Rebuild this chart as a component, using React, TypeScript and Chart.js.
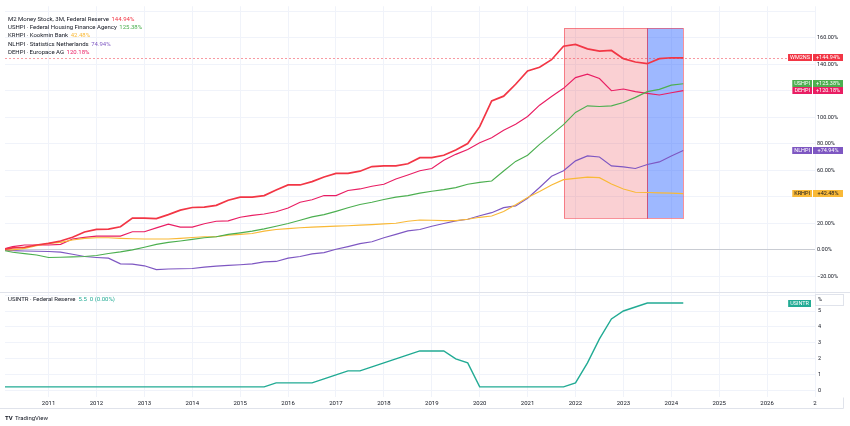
import React, { useEffect, useRef } from 'react';
import { Chart, registerables } from 'chart.js';

Chart.register(...registerables);

// Quarterly observations starting 2010 Q1 (one value per quarter)
const START_YEAR = 2010;

const M2_PCT = [0, 1.5, 2, 3.7, 4.9, 6.7, 9.5, 13.5, 15.5, 15.7, 17.5, 24, 24, 23.6, 26.6, 30, 32, 32.3, 33.6, 37.5, 39.8, 39.8, 41, 45.2, 49, 49, 51.5, 55, 57.7, 57.7, 59.4, 62.9, 63.4, 63.4, 65, 69.6, 69.6, 71.4, 75.4, 80.3, 93, 112.4, 116, 125, 135, 137.8, 143.5, 153.7, 155, 151.7, 150, 150.5, 144.3, 141.8, 140.5, 144.3, 145, 144.94];
const USHPI_PCT = [0, -1.8, -2.8, -3.8, -5.7, -5.5, -5.2, -5, -4.2, -2.7, -1.5, 0, 2, 4.2, 5.7, 6.7, 7.9, 9.2, 9.9, 11.7, 12.9, 14.2, 15.9, 17.9, 19.9, 22.4, 24.9, 26.6, 29.1, 31.8, 34.3, 36, 38, 39.8, 41, 42.8, 44.3, 45.5, 47, 49.5, 51, 52, 59.5, 66.8, 71.4, 79.6, 87, 94.5, 103.7, 108.7, 108.2, 108.7, 111.2, 115.1, 119.4, 121.1, 124.3, 125.38];
const KRHPI_PCT = [0, 0, 1.2, 3.2, 4.9, 5.7, 7.5, 8.7, 9.2, 9.2, 8.7, 8.4, 8.2, 8.2, 8.2, 8.7, 9.4, 9.9, 9.9, 11.2, 11.7, 12.4, 14.2, 15.4, 16.1, 16.7, 17.2, 17.6, 17.9, 18.2, 18.7, 19.1, 19.6, 20.1, 21.6, 22.6, 22.4, 22.1, 22.1, 23.1, 24.6, 25.6, 29, 34, 39.5, 44, 49, 53, 54, 54.9, 54.5, 49.7, 46, 43.5, 43.3, 43, 42.8, 42.48];
const NLHPI_PCT = [0, -0.5, -0.8, -1, -1.2, -1.7, -3.3, -5, -5.7, -6.2, -10.5, -10.7, -12, -14.9, -14.4, -14.2, -14, -13, -12.2, -11.7, -11.2, -10.5, -9, -8.7, -6.2, -5, -3, -2, 0.5, 2.5, 4.7, 6.2, 9.2, 11.7, 14.4, 15.4, 17.9, 19.9, 21.9, 23.1, 25.8, 28.1, 31.9, 33.2, 39, 47.1, 55.5, 59.7, 67.2, 70.9, 70.1, 63.4, 62.7, 61.4, 64.4, 66.4, 70.9, 74.94];
const DEHPI_PCT = [0, 2.5, 3.7, 3.7, 3.7, 4.2, 8.2, 9.5, 10.4, 10.4, 10.4, 13.7, 13.7, 16.6, 19.4, 17.2, 17.2, 19.7, 21.6, 21.9, 24.6, 26.1, 27.1, 28.8, 31.6, 36, 37.8, 41, 41, 44.8, 46, 48, 49.5, 53.5, 56.5, 59.7, 61.4, 67.6, 72.1, 75.8, 80.8, 84.6, 90.3, 94.8, 100.7, 109.2, 115.7, 121.9, 130, 132.6, 129.3, 120.1, 121.4, 119.4, 118.1, 116.9, 118.6, 120.18];
const USINTR = [0.25, 0.25, 0.25, 0.25, 0.25, 0.25, 0.25, 0.25, 0.25, 0.25, 0.25, 0.25, 0.25, 0.25, 0.25, 0.25, 0.25, 0.25, 0.25, 0.25, 0.25, 0.25, 0.25, 0.5, 0.5, 0.5, 0.5, 0.75, 1.0, 1.25, 1.25, 1.5, 1.75, 2.0, 2.25, 2.5, 2.5, 2.5, 2.0, 1.75, 0.25, 0.25, 0.25, 0.25, 0.25, 0.25, 0.25, 0.25, 0.5, 1.75, 3.25, 4.5, 5.0, 5.25, 5.5, 5.5, 5.5, 5.5];

const X_TICKS = [2011, 2012, 2013, 2014, 2015, 2016, 2017, 2018, 2019, 2020, 2021, 2022, 2023, 2024, 2025, 2026, 2027];
const X_TICK_LABELS = ['2011', '2012', '2013', '2014', '2015', '2016', '2017', '2018', '2019', '2020', '2021', '2022', '2023', '2024', '2025', '2026', '2'];
const PCT_TICKS = [-20, 0, 20, 40, 60, 80, 100, 120, 140, 160, 180];
const PCT_HIDDEN = [40, 120, 180];
const RATE_TICKS = [0, 1, 2, 3, 4, 5, 6];
const RATE_HIDDEN = [6];

const SERIES_NAMES = ['M2 Money Stock, 3M, Federal Reserve', 'USHPI · Federal Housing Finance Agency', 'KRHPI · Kookmin Bank', 'NLHPI · Statistics Netherlands', 'DEHPI · Europace AG'];
const SERIES_VALUES = ['144.94%', '125.38%', '42.48%', '74.94%', '120.18%'];
const SERIES_TAGS = ['WM2NS', 'USHPI', 'KRHPI', 'NLHPI', 'DEHPI'];
const SERIES_TAG_VALUES = ['+144.94%', '+125.38%', '+42.48%', '+74.94%', '+120.18%'];
const SERIES_COLORS = ['#F23645', '#4CAF50', '#F9B937', '#7E57C2', '#E91E63'];
const SERIES_WIDTHS = [1.7, 1.15, 1.15, 1.15, 1.15];

const RATE_NAME = 'USINTR · Federal Reserve';
const RATE_VALUES = ['5.5', '0 (0.00%)'];
const RATE_TAG = 'USINTR';
const RATE_COLOR = '#22AB94';

// Drawn rectangles (data units: years, percent)
const ZONE_FROM = [2021.75, 2023.5];
const ZONE_TO = [2023.5, 2024.25];
const ZONE_LOW = [24.3, 24.3];
const ZONE_HIGH = [167.2, 167.2];
const ZONE_FILL = ['rgba(236,60,72,0.24)', 'rgba(41,98,255,0.45)'];
const ZONE_BORDER = ['rgba(242,54,69,0.55)', 'rgba(242,54,69,0.55)'];

const X_MIN = 2010.09;
const X_MAX = 2027;
const FONT = 'Roboto';
const TEXT = '#131722';

const toPoints = (arr: number[]) => arr.map((v, i) => ({ x: START_YEAR + i / 4, y: v }));

const overlay = {
  id: 'overlay',
  beforeDatasetsDraw(chart: any) {
    const { ctx, chartArea, scales } = chart;
    const x = scales.x;
    const y = scales.y;
    ctx.save();
    ctx.beginPath();
    ctx.rect(chartArea.left, y.top, chartArea.right - chartArea.left, y.bottom - y.top);
    ctx.clip();
    for (let i = 0; i < ZONE_FROM.length; i++) {
      const l = Math.round(x.getPixelForValue(ZONE_FROM[i]));
      const r = Math.round(x.getPixelForValue(ZONE_TO[i]));
      const t = Math.round(y.getPixelForValue(ZONE_HIGH[i]));
      const b = Math.round(y.getPixelForValue(ZONE_LOW[i]));
      ctx.fillStyle = ZONE_FILL[i];
      ctx.fillRect(l, t, r - l, b - t);
      ctx.strokeStyle = ZONE_BORDER[i];
      ctx.lineWidth = 1;
      ctx.strokeRect(l + 0.5, t + 0.5, r - l, b - t);
    }
    const py = Math.round(y.getPixelForValue(M2_PCT[M2_PCT.length - 1])) + 0.5;
    ctx.setLineDash([2, 2]);
    ctx.strokeStyle = 'rgba(242,54,69,0.5)';
    ctx.beginPath();
    ctx.moveTo(chartArea.left, py);
    ctx.lineTo(chartArea.right, py);
    ctx.stroke();
    ctx.restore();
  },
  afterDraw(chart: any) {
    const { ctx, scales } = chart;
    const y = scales.y;
    const y2 = scales.y2;
    ctx.save();
    // pane separator
    ctx.strokeStyle = '#E0E3EB';
    ctx.lineWidth = 1;
    const sepY = Math.round(y2.top) + 0.5;
    ctx.beginPath();
    ctx.moveTo(0, sepY);
    ctx.lineTo(850, sepY);
    ctx.stroke();
    // time axis bottom border
    ctx.beginPath();
    ctx.moveTo(0, 408.5);
    ctx.lineTo(843.5, 408.5);
    ctx.lineTo(843.5, Math.round(y2.bottom) + 0.5);
    ctx.stroke();

    // legends
    ctx.font = `6px ${FONT}`;
    ctx.textBaseline = 'middle';
    ctx.textAlign = 'left';
    let ly = 19.5;
    for (let i = 0; i < SERIES_NAMES.length; i++) {
      ctx.fillStyle = TEXT;
      ctx.fillText(SERIES_NAMES[i], 8, ly);
      const w = ctx.measureText(SERIES_NAMES[i]).width;
      ctx.fillStyle = SERIES_COLORS[i];
      ctx.fillText(SERIES_VALUES[i], 8 + w + 2.5, ly);
      ly += 8.2;
    }
    const ry = y2.top + 7.5;
    ctx.fillStyle = TEXT;
    ctx.fillText(RATE_NAME, 8, ry);
    let rx = 8 + ctx.measureText(RATE_NAME).width + 3;
    ctx.fillStyle = RATE_COLOR;
    ctx.fillText(RATE_VALUES[0], rx, ry);
    rx += ctx.measureText(RATE_VALUES[0]).width + 3;
    ctx.fillText(RATE_VALUES[1], rx, ry);

    // right price tags
    const all = [M2_PCT, USHPI_PCT, KRHPI_PCT, NLHPI_PCT, DEHPI_PCT];
    ctx.font = `5.5px ${FONT}`;
    for (let i = 0; i < all.length; i++) {
      const arr = all[i];
      const cy = y.getPixelForValue(arr[arr.length - 1]);
      const h = 7;
      const top = Math.round(cy - h / 2);
      const nw = ctx.measureText(SERIES_TAGS[i]).width + 4;
      const textCol = i === 2 ? '#131722' : '#FFFFFF';
      ctx.fillStyle = SERIES_COLORS[i];
      ctx.fillRect(812 - nw, top, nw, h);
      ctx.fillRect(813, top, 30, h);
      ctx.fillStyle = textCol;
      ctx.textAlign = 'center';
      ctx.fillText(SERIES_TAGS[i], 812 - nw / 2, top + h / 2 + 0.3);
      ctx.fillText(SERIES_TAG_VALUES[i], 828, top + h / 2 + 0.3);
    }
    // rate tag
    const rcy = y2.getPixelForValue(USINTR[USINTR.length - 1]);
    const rw = ctx.measureText(RATE_TAG).width + 4;
    const rtop = Math.round(rcy - 3.5);
    ctx.fillStyle = RATE_COLOR;
    ctx.fillRect(811 - rw, rtop, rw, 7);
    ctx.fillStyle = '#FFFFFF';
    ctx.fillText(RATE_TAG, 811 - rw / 2, rtop + 3.8);
    // unit box
    ctx.fillStyle = '#FFFFFF';
    ctx.fillRect(815, 294, 28, 11);
    ctx.strokeStyle = '#E0E3EB';
    ctx.strokeRect(815.5, 294.5, 28, 11);
    ctx.fillStyle = TEXT;
    ctx.textAlign = 'left';
    ctx.fillText('%', 818, 300);

    // logo
    ctx.font = `bold 6px ${FONT}`;
    ctx.fillStyle = TEXT;
    ctx.fillText('TV', 5, 418);
    ctx.font = `6px ${FONT}`;
    ctx.fillText('TradingView', 15, 418);
    ctx.restore();
  },
};

export default function App() {
  const ref = useRef<HTMLCanvasElement>(null);
  useEffect(() => {
    document.body.style.margin = '0';
    Chart.defaults.font.family = FONT;
    const series = [M2_PCT, USHPI_PCT, KRHPI_PCT, NLHPI_PCT, DEHPI_PCT];
    const datasets: any[] = series.map((arr, i) => ({
      label: SERIES_TAGS[i],
      data: toPoints(arr),
      borderColor: SERIES_COLORS[i],
      borderWidth: SERIES_WIDTHS[i],
      yAxisID: 'y',
      pointRadius: 0,
      tension: 0,
      order: i === 0 ? 0 : 1,
    }));
    datasets.push({
      label: RATE_TAG,
      data: toPoints(USINTR),
      borderColor: RATE_COLOR,
      borderWidth: 1.4,
      yAxisID: 'y2',
      pointRadius: 0,
      tension: 0,
    });
    const chart = new Chart(ref.current as HTMLCanvasElement, {
      type: 'line',
      data: { datasets },
      plugins: [overlay],
      options: {
        responsive: false,
        animation: false,
        devicePixelRatio: 1,
        layout: { padding: { left: 5, top: 2, right: 0, bottom: 18 } },
        plugins: { legend: { display: false }, tooltip: { enabled: false } },
        scales: {
          x: {
            type: 'linear',
            min: X_MIN,
            max: X_MAX,
            afterBuildTicks: (s: any) => {
              s.ticks = X_TICKS.map((v) => ({ value: v }));
            },
            afterFit: (s: any) => {
              s.height = 11;
            },
            ticks: {
              autoSkip: false,
              maxRotation: 0,
              padding: 2.5,
              color: TEXT,
              font: { size: 6, family: FONT },
              callback: (v: any) => X_TICK_LABELS[X_TICKS.indexOf(Number(v))] ?? '',
            },
            grid: { color: '#F0F3FA', drawTicks: false },
            border: { display: false },
          },
          y: {
            type: 'linear',
            position: 'right',
            stack: 'panes',
            stackWeight: 289,
            min: -31.87,
            max: 183.8,
            afterBuildTicks: (s: any) => {
              s.ticks = PCT_TICKS.map((v) => ({ value: v }));
            },
            afterFit: (s: any) => {
              s.width = 35;
            },
            ticks: {
              autoSkip: false,
              padding: 2,
              color: TEXT,
              font: { size: 5.5, family: FONT },
              callback: (v: any) => {
                const n = Number(v);
                if (PCT_HIDDEN.includes(n)) return '';
                return (n < 0 ? '\u2212' : '') + Math.abs(n).toFixed(2) + '%';
              },
            },
            grid: {
              drawTicks: false,
              color: (c: any) => (c.tick && c.tick.value === 0 ? '#C9CCD3' : '#F0F3FA'),
            },
            border: { display: false },
          },
          y2: {
            type: 'linear',
            position: 'right',
            stack: 'panes',
            stackWeight: 106,
            min: -0.384,
            max: 6.18,
            afterBuildTicks: (s: any) => {
              s.ticks = RATE_TICKS.map((v) => ({ value: v }));
            },
            afterFit: (s: any) => {
              s.width = 35;
            },
            ticks: {
              autoSkip: false,
              padding: 3,
              color: TEXT,
              font: { size: 5.5, family: FONT },
              callback: (v: any) => (RATE_HIDDEN.includes(Number(v)) ? '' : String(v)),
            },
            grid: { drawTicks: false, color: '#F0F3FA' },
            border: { display: false },
          },
        },
      } as any,
    });
    return () => chart.destroy();
  }, []);
  return <canvas ref={ref} width={850} height={426} style={{ display: 'block', width: 850, height: 426 }} />;
}
